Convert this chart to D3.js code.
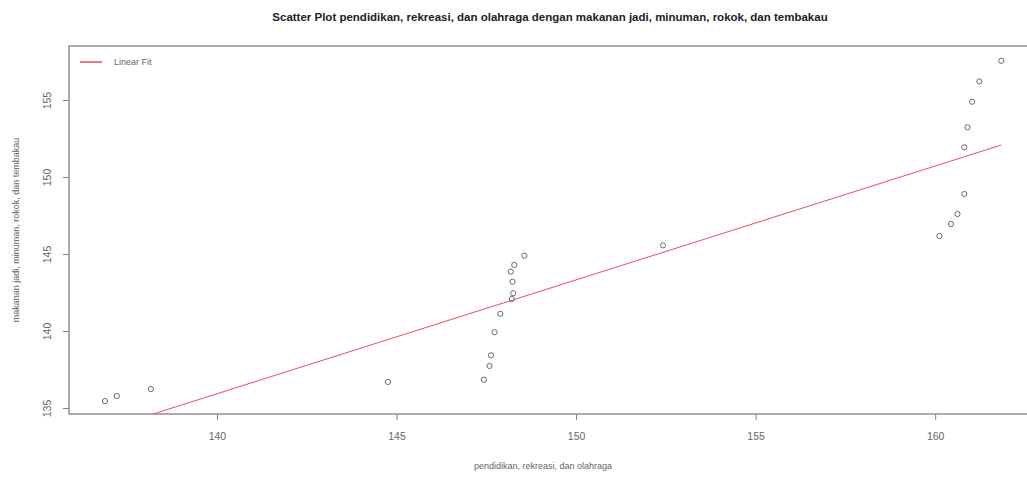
<!DOCTYPE html>
<html>
<head>
    <meta charset="utf-8">
    <title>Scatter Plot</title>
    <script src="https://d3js.org/d3.v7.min.js"></script>
    <style>
        body {
            margin: 0;
            padding: 0;
            background-color: #ffffff;
            font-family: "Liberation Sans", Arial, sans-serif;
        }
        .dot {
            fill: none;
            stroke: #6a6a6a;
            stroke-width: 1;
        }
        .fit-line {
            stroke: #e5505a;
            stroke-width: 1;
            fill: none;
        }
    </style>
</head>
<body>
    <div id="chart"></div>

    <script>
        // data
        var pendidikan = [136.88, 137.21, 138.16, 144.76,
            147.43, 147.59, 147.63, 147.73, 147.89, 148.21, 148.25, 148.23, 148.18, 148.28, 148.56,
            152.42,
            160.12, 160.44, 160.62, 160.81, 160.81, 160.90, 161.03, 161.23, 161.84];
        var makanan = [135.45, 135.78, 136.23, 136.69,
            136.84, 137.73, 138.42, 139.92, 141.12, 142.08, 142.45, 143.20, 143.85, 144.29, 144.89,
            145.56,
            146.17, 146.95, 147.60, 148.90, 151.93, 153.23, 154.89, 156.21, 157.55];
        var xTicks = [140, 145, 150, 155, 160];
        var yTicks = [135, 140, 145, 150, 155];
        var fitIntercept = 32.38;
        var fitSlope = 0.7396;

        var data = pendidikan.map(function(x, i) { return { x: x, y: makanan[i] }; });

        var W = 1027, H = 478;
        var mLeft = 69, mRight = 1030, mTop = 46, mBottom = 414;

        var svg = d3.select("#chart")
            .append("svg")
            .attr("width", W)
            .attr("height", H);

        var xScale = d3.scaleLinear().domain([135.88, 162.64]).range([mLeft, mRight]);
        var yScale = d3.scaleLinear().domain([134.61, 158.51]).range([mBottom, mTop]);

        svg.append("defs").append("clipPath").attr("id", "clip")
            .append("rect")
            .attr("x", mLeft).attr("y", mTop)
            .attr("width", mRight - mLeft).attr("height", mBottom - mTop);

        // box (left, top, bottom visible)
        svg.append("rect")
            .attr("x", mLeft).attr("y", mTop)
            .attr("width", mRight - mLeft).attr("height", mBottom - mTop)
            .attr("fill", "none")
            .attr("stroke", "#808080")
            .attr("stroke-width", 1.3);

        // x axis ticks
        var xAxis = d3.axisBottom(xScale).tickValues(xTicks).tickSize(6).tickPadding(13)
            .tickFormat(d3.format("d"));
        var gx = svg.append("g")
            .attr("transform", "translate(0," + mBottom + ")")
            .call(xAxis);
        gx.select(".domain").remove();
        gx.selectAll("line").attr("stroke", "#808080");
        gx.selectAll("text").attr("fill", "#666").style("font-size", "10.5px");

        // y axis ticks
        var yAxis = d3.axisLeft(yScale).tickValues(yTicks).tickSize(6).tickFormat(d3.format("d"));
        var gy = svg.append("g")
            .attr("transform", "translate(" + mLeft + ",0)")
            .call(yAxis);
        gy.select(".domain").remove();
        gy.selectAll("line").attr("stroke", "#808080");
        gy.selectAll("text")
            .attr("fill", "#666")
            .style("font-size", "10.5px")
            .attr("x", null)
            .attr("dy", null)
            .attr("text-anchor", "middle")
            .attr("transform", "translate(-22,0) rotate(-90)")
            .attr("dominant-baseline", "central");

        // fit line
        var xr = d3.extent(pendidikan);
        var fitData = xr.map(function(x) { return { x: x, y: fitIntercept + fitSlope * x }; });
        var line = d3.line()
            .x(function(d) { return xScale(d.x); })
            .y(function(d) { return yScale(d.y); });
        svg.append("path")
            .datum(fitData)
            .attr("class", "fit-line")
            .attr("clip-path", "url(#clip)")
            .attr("d", line);

        // points
        svg.selectAll(".dot")
            .data(data)
            .enter().append("circle")
            .attr("class", "dot")
            .attr("cx", function(d) { return xScale(d.x); })
            .attr("cy", function(d) { return yScale(d.y); })
            .attr("r", 2.6);

        // title
        svg.append("text")
            .attr("x", 550)
            .attr("y", 21)
            .attr("text-anchor", "middle")
            .style("font-size", "11.5px")
            .style("font-weight", "bold")
            .attr("fill", "#222")
            .text("Scatter Plot pendidikan, rekreasi, dan olahraga dengan makanan jadi, minuman, rokok, dan tembakau");

        // axis labels
        svg.append("text")
            .attr("x", 543)
            .attr("y", 469)
            .attr("text-anchor", "middle")
            .style("font-size", "9px")
            .attr("fill", "#666")
            .text("pendidikan, rekreasi, dan olahraga");

        svg.append("text")
            .attr("transform", "translate(16," + ((mTop + mBottom) / 2) + ") rotate(-90)")
            .attr("text-anchor", "middle")
            .attr("dominant-baseline", "central")
            .style("font-size", "9px")
            .attr("fill", "#666")
            .text("makanan jadi, minuman, rokok, dan tembakau");

        // legend
        svg.append("line")
            .attr("x1", 80).attr("x2", 102)
            .attr("y1", 62).attr("y2", 62)
            .attr("stroke", "#e5505a")
            .attr("stroke-width", 1.5);
        svg.append("text")
            .attr("x", 114)
            .attr("y", 62)
            .attr("dominant-baseline", "central")
            .style("font-size", "9px")
            .attr("fill", "#666")
            .text("Linear Fit");
    </script>
</body>
</html>
